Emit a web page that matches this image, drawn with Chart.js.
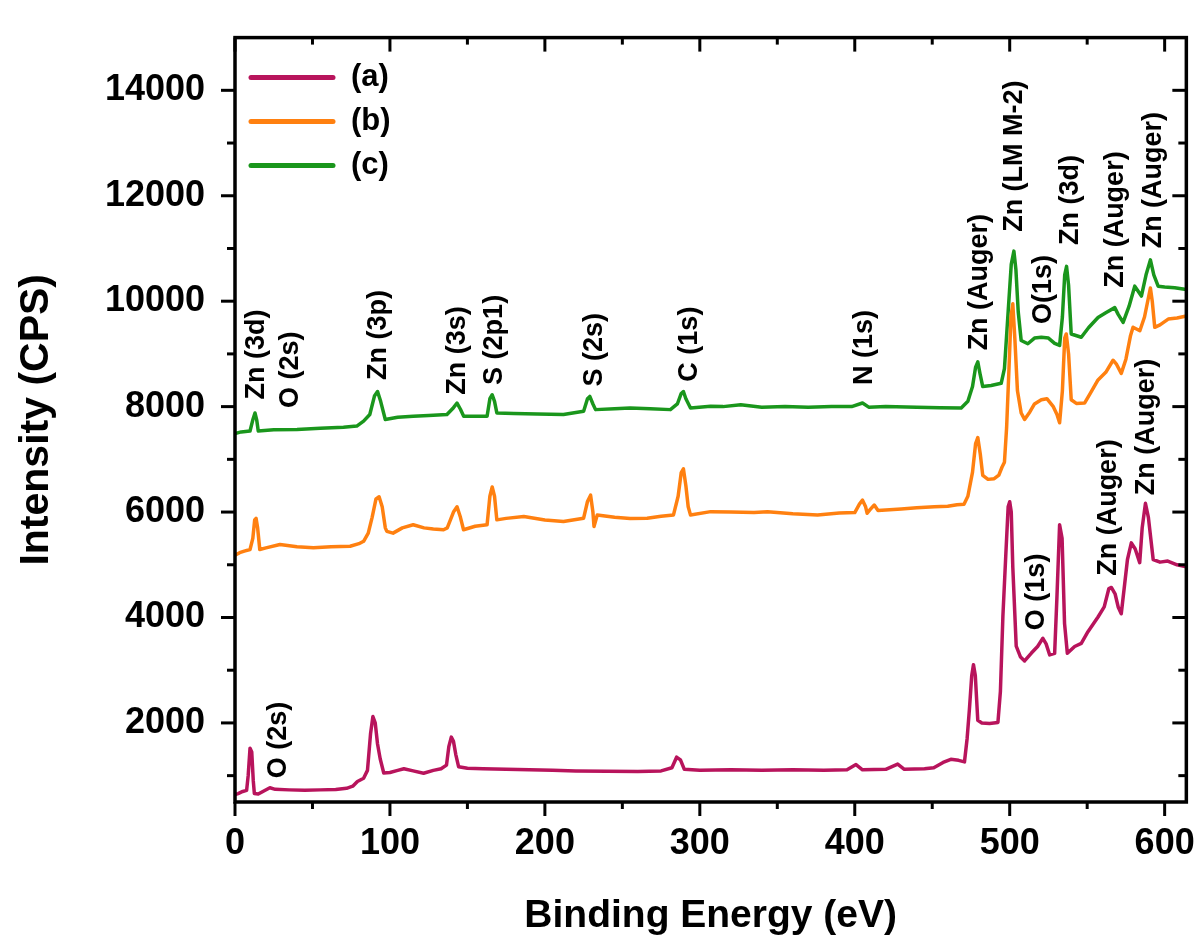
<!DOCTYPE html>
<html><head><meta charset="utf-8">
<script src="https://cdn.jsdelivr.net/npm/chart.js@4.4.0/dist/chart.umd.min.js"></script>
<style>html,body{margin:0;padding:0;background:#fff;}#wrap{width:1201px;height:947px;}</style>
</head><body><div id="wrap"><canvas id="c" width="1201" height="947"></canvas></div>
<script>
// ---------- data ----------
const seriesLabels = ['(a)', '(b)', '(c)'];
const seriesColors = ['#B8145C', '#FF8010', '#1A961C'];

const energyA = [0,2,5,7.5,8.5,9.7,10.8,11.8,12.5,15,18,22.5,26,35,45,55,65,72,76,79,83,85.5,87.5,89,90.5,92,93.7,96,100,105,109,115,121.7,128,133,136.5,138,139.6,141,142.5,144.3,150,160,175,190,205,220,240,260,275,282,285,287.5,290,300,320,340,360,380,395,400.8,405,420,427.7,432,445,451,457,462,467,470.8,472.5,474,475.5,476.6,477.8,479.4,482,487,492.4,494,495.6,497.5,499,500,501,502,504.2,507,509.6,514,518,521.4,523.5,525.8,529,530.5,532.2,533.8,535.4,537.2,541.9,546.2,550.5,557,561,564,565.6,568,570,572,574.2,576,578.5,581,583.9,585.5,587.6,589.5,592.6,597,602,608,614];
const countsA = [640,660,700,720,1000,1520,1450,900,660,650,700,770,740,730,725,730,735,760,800,890,950,1100,1800,2120,2000,1600,1320,1050,1060,1100,1130,1090,1045,1100,1130,1200,1550,1730,1650,1400,1170,1140,1130,1120,1110,1100,1090,1085,1080,1090,1150,1350,1300,1120,1100,1110,1100,1110,1100,1110,1210,1110,1120,1220,1120,1130,1150,1250,1310,1290,1260,1700,2260,2900,3105,2900,2050,2000,1990,2010,2600,4020,5200,6100,6195,6000,4950,3455,3250,3175,3325,3450,3605,3500,3290,3320,4400,5760,5500,3885,3320,3450,3510,3730,4010,4200,4550,4570,4450,4200,4070,4635,5100,5415,5300,5040,5700,6165,5900,5100,5050,5070,5000,4960];

const energyB = [0,3,6,9.7,11.5,12.7,13.6,14.6,16,20,29,40,50.6,62,74.3,80,83,86,88.5,91,93,95,97,98,102,108,115,122,128,134.6,137,141,143.3,145.5,147.5,155,162.7,164.5,166,167.5,169,175,186.4,200,212,220,225,227.5,229.5,231,231.7,233.8,245,255,266,275,283,286,288,289.4,291,292.5,294,307,320,335,343.7,360,376,390,400,403,405,407,408,410,412.6,415,430,440,451.4,460,466,470.5,473,476,478,479.4,481,482.6,486,490,493,495,496.6,498,499.5,500.8,502,503.3,505,507.4,509.6,513,516,520.4,524,528,530.5,532.2,534,535.5,536.5,538,539.7,543,548.3,552,557,562,566.7,569,572,575,578,579.6,584,587,590.8,592,593.6,597,602.3,608,614];
const countsB = [5180,5230,5260,5290,5500,5850,5880,5700,5290,5320,5384,5340,5322,5340,5352,5400,5446,5600,5900,6250,6290,6100,5700,5634,5600,5700,5760,5700,5680,5665,5700,6000,6100,5900,5665,5730,5760,6300,6475,6300,5852,5880,5914,5850,5820,5860,5884,6200,6320,6000,5727,5946,5900,5880,5884,5920,5946,6300,6750,6820,6500,6100,5946,6008,6000,5990,6008,5970,5946,5980,5990,6150,6226,6100,5977,6050,6133,6030,6060,6080,6100,6110,6140,6150,6300,6757,7300,7412,7100,6695,6620,6633,6700,6850,6945,7600,8700,9700,9950,9300,8300,7880,7757,7900,8050,8131,8150,8006,7850,7693,8300,9300,9378,9000,8131,8060,8068,8250,8506,8650,8880,8800,8630,8900,9350,9505,9440,9700,10250,10000,9505,9550,9660,9680,9720];

const energyC = [0,4,9.7,11.5,12.9,14,15,25,40,55,70,78.6,83,87,90,92,94,97,105,115,125,136.8,141,143.3,145.5,147.6,162.7,164.5,166,167.5,169,180,195,212,225,227.5,229,231,232.7,245,255,268,281,285.5,288,289.4,291,294,307,315,326.4,340,355,370,385,398,405,409,420,440,455,468.7,473,476,478,479.4,481,482.6,488,494.5,496.6,499,501,502.7,504,505.5,507.4,511.7,516,520.4,525,529,532.2,534,535.5,536.7,538,539.7,546.2,551,557,562,567.8,570,573.2,577,580.7,585,588,590.8,593,595.8,600,606.5,614];
const countsC = [7490,7520,7537,7750,7880,7750,7537,7560,7568,7590,7610,7631,7725,7850,8200,8287,8100,7756,7800,7818,7830,7850,7980,8068,7950,7818,7818,8150,8225,8100,7880,7870,7860,7850,7912,8150,8193,8050,7943,7960,7974,7960,7943,8050,8250,8287,8150,7974,8006,8000,8037,7990,8000,7990,8000,8000,8068,7990,8000,7990,7980,7974,8100,8380,8750,8848,8600,8380,8400,8442,8723,9800,10700,10950,10600,9800,9255,9192,9300,9316,9300,9200,9160,9700,10500,10660,10300,9378,9316,9500,9690,9780,9878,9750,9597,9900,10285,10097,10500,10783,10500,10285,10270,10253,10221];

const xTicks = [0,100,200,300,400,500,600];
const xMinorTicks = [50,150,250,350,450,550];
const yTicks = [2000,4000,6000,8000,10000,12000,14000];
const yMinorTicks = [1000,3000,5000,7000,9000,11000,13000];

const peakLabels = ['Zn (3d)','O (2s)','Zn (3p)','Zn (3s)','S (2p1)','S (2s)','C (1s)','N (1s)','Zn (Auger)','Zn (LM M-2)','O(1s)','Zn (3d)','Zn (Auger)','Zn (Auger)','O (2s)','O (1s)','Zn (Auger)','Zn (Auger)'];
const peakLabelEnergy = [14.0,36.1,92.4,143.5,167.7,232.2,293.5,406.3,480.5,503.1,521.8,539.2,568.2,592.7,28.4,517.6,563.7,588.5];
const peakLabelCounts = [8137,7974,8506,8225,8412,8380,8474,8412,9067,11315,9566,11064,10253,11002,951,3760,4790,6320];

// ---------- chart ----------
const FONT = '"Liberation Sans", Arial, Helvetica, sans-serif';
Chart.defaults.font.family = FONT;
Chart.defaults.color = '#000';

function pts(xs, ys) { return xs.map((x, i) => ({x: x, y: ys[i]})); }

const frameAndTicks = {
  id: 'frameAndTicks',
  afterDatasetsDraw(chart) {
    const {ctx, chartArea: a, scales: {x, y}} = chart;
    ctx.save();
    ctx.strokeStyle = '#000';
    ctx.lineWidth = 3.5;
    ctx.lineCap = 'butt';
    ctx.strokeRect(a.left, a.top, a.right - a.left, a.bottom - a.top);
    ctx.lineWidth = 3;
    const seg = (x1, y1, x2, y2) => { ctx.beginPath(); ctx.moveTo(x1, y1); ctx.lineTo(x2, y2); ctx.stroke(); };
    xTicks.forEach(v => { const p = x.getPixelForValue(v); seg(p, a.bottom, p, a.bottom + 14); seg(p, a.top, p, a.top + 14); });
    xMinorTicks.forEach(v => { const p = x.getPixelForValue(v); seg(p, a.bottom, p, a.bottom + 7); seg(p, a.top, p, a.top + 7); });
    yTicks.forEach(v => { const p = y.getPixelForValue(v); seg(a.left, p, a.left - 14, p); seg(a.right, p, a.right - 14, p); });
    yMinorTicks.forEach(v => { const p = y.getPixelForValue(v); seg(a.left, p, a.left - 8, p); seg(a.right, p, a.right - 8, p); });
    ctx.restore();
  }
};

const peakText = {
  id: 'peakText',
  afterDatasetsDraw(chart) {
    const {ctx, scales: {x, y}} = chart;
    ctx.save();
    ctx.fillStyle = '#000';
    ctx.font = 'bold 27px ' + FONT;
    ctx.textAlign = 'left';
    ctx.textBaseline = 'middle';
    peakLabels.forEach((t, i) => {
      ctx.save();
      ctx.translate(x.getPixelForValue(peakLabelEnergy[i]), y.getPixelForValue(peakLabelCounts[i]));
      ctx.rotate(-Math.PI / 2);
      ctx.fillText(t, 0, 0);
      ctx.restore();
    });
    ctx.restore();
  }
};

const insideLegend = {
  id: 'insideLegend',
  afterDatasetsDraw(chart) {
    const {ctx, chartArea: a} = chart;
    ctx.save();
    ctx.font = 'bold 31px ' + FONT;
    ctx.textAlign = 'left';
    ctx.textBaseline = 'middle';
    chart.data.datasets.forEach((ds, i) => {
      const yy = a.top + 40 + i * 44;
      ctx.strokeStyle = ds.borderColor;
      ctx.lineWidth = 5;
      ctx.lineCap = 'round';
      ctx.beginPath(); ctx.moveTo(a.left + 16, yy); ctx.lineTo(a.left + 98, yy); ctx.stroke();
      ctx.fillStyle = '#000';
      ctx.fillText(ds.label, a.left + 116, yy);
    });
    ctx.restore();
  }
};

new Chart(document.getElementById('c'), {
  type: 'line',
  data: {
    datasets: [
      {label: seriesLabels[0], data: pts(energyA, countsA), borderColor: seriesColors[0]},
      {label: seriesLabels[1], data: pts(energyB, countsB), borderColor: seriesColors[1]},
      {label: seriesLabels[2], data: pts(energyC, countsC), borderColor: seriesColors[2]}
    ].map(d => Object.assign(d, {borderWidth: 3.5, pointRadius: 0, tension: 0, fill: false, borderJoinStyle: 'round'}))
  },
  options: {
    responsive: false,
    animation: false,
    devicePixelRatio: 1,
    layout: {padding: {top: 28, right: 14, left: 0, bottom: 0}},
    plugins: {legend: {display: false}, tooltip: {enabled: false}},
    scales: {
      x: {
        type: 'linear', min: 0, max: 614,
        grid: {display: false, drawTicks: true, tickLength: 14},
        border: {display: false},
        afterBuildTicks: s => { s.ticks = xTicks.map(v => ({value: v})); },
        afterFit: s => { s.height = 145; },
        ticks: {autoSkip: false, maxRotation: 0, padding: 6, color: '#000', font: {size: 36, weight: 'bold'}, callback: v => String(v)},
        title: {display: true, text: 'Binding Energy (eV)', color: '#000', font: {size: 39, weight: 'bold'}, padding: {top: 0, bottom: 7}}
      },
      y: {
        type: 'linear', min: 500, max: 15000,
        grid: {display: false, drawTicks: true, tickLength: 14},
        border: {display: false},
        afterBuildTicks: s => { s.ticks = yTicks.map(v => ({value: v})); },
        afterFit: s => { s.width = 235; },
        ticks: {autoSkip: false, padding: 16, color: '#000', font: {size: 36, weight: 'bold'}, callback: v => String(v)},
        title: {display: true, text: 'Intensity (CPS)', color: '#000', font: {size: 41, weight: 'bold'}, padding: {top: 12, bottom: 0}}
      }
    }
  },
  plugins: [frameAndTicks, peakText, insideLegend]
});
</script>
</body></html>
